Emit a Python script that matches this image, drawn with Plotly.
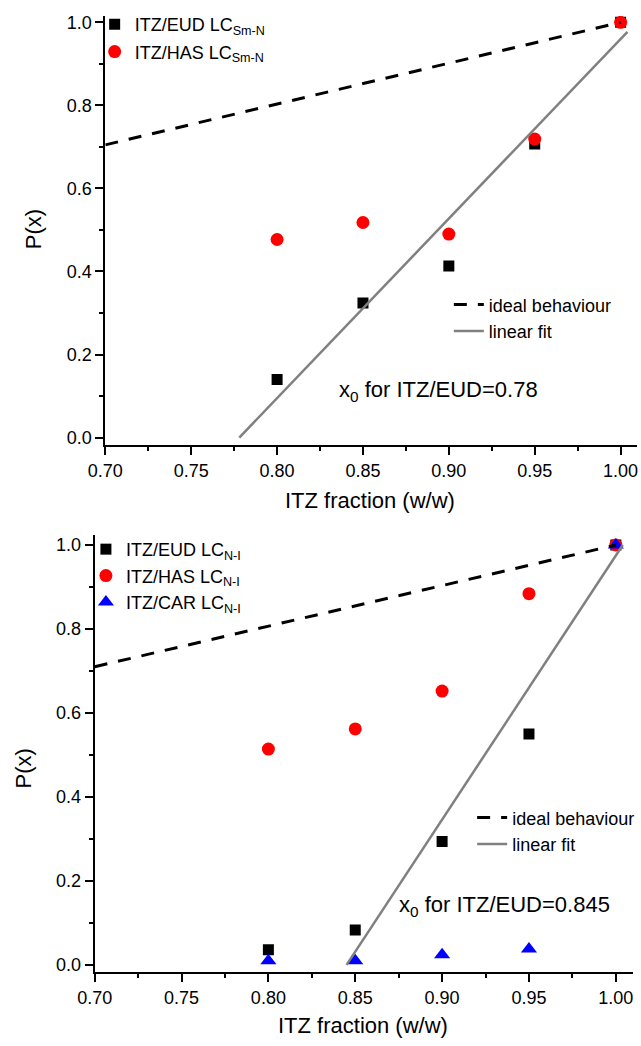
import plotly.graph_objects as go

# ---------------- data ----------------
frac = [0.80, 0.85, 0.90, 0.95, 1.00]

top_eud = [0.140, 0.324, 0.413, 0.707, 1.000]
top_has = [0.477, 0.518, 0.490, 0.719, 1.000]

bot_eud = [0.036, 0.083, 0.294, 0.550, 1.000]
bot_has = [0.514, 0.562, 0.652, 0.884, 1.000]
bot_car = [0.010, 0.010, 0.024, 0.038, 1.000]

ideal_x = [0.70, 1.00]
top_ideal_y = [0.705, 1.00]
bot_ideal_y = [0.710, 1.00]

top_fit_x = [0.778, 1.004]
top_fit_y = [0.000, 0.977]
bot_fit_x = [0.845, 1.004]
bot_fit_y = [0.000, 1.000]

x_tickvals = [0.70, 0.75, 0.80, 0.85, 0.90, 0.95, 1.00]
y_tickvals = [0.0, 0.2, 0.4, 0.6, 0.8, 1.0]

W, H = 641, 1046
FONT = "Liberation Sans, Arial, sans-serif"


def px(x):
    return x / W


def py(y):
    return 1 - y / H


fig = go.Figure()

# ---------------- top panel ----------------
fig.add_trace(go.Scatter(x=frac, y=top_eud, mode="markers", name="ITZ/EUD LC<sub>Sm-N</sub>",
                         marker=dict(symbol="square", size=11, color="black"),
                         xaxis="x", yaxis="y", legend="legend", legendgroup="a"))
fig.add_trace(go.Scatter(x=frac, y=top_has, mode="markers", name="ITZ/HAS LC<sub>Sm-N</sub>",
                         marker=dict(symbol="circle", size=13, color="#ff0000"),
                         xaxis="x", yaxis="y", legend="legend", legendgroup="b"))
fig.add_trace(go.Scatter(x=ideal_x, y=top_ideal_y, mode="lines", name="ideal behaviour",
                         line=dict(color="black", width=3, dash="13px,11px"),
                         xaxis="x", yaxis="y", legend="legend2", legendgroup="c"))
fig.add_trace(go.Scatter(x=top_fit_x, y=top_fit_y, mode="lines", name="linear fit",
                         line=dict(color="#808080", width=2.5),
                         xaxis="x", yaxis="y", legend="legend2", legendgroup="d"))

# ---------------- bottom panel ----------------
fig.add_trace(go.Scatter(x=frac, y=bot_eud, mode="markers", name="ITZ/EUD LC<sub>N-I</sub>",
                         marker=dict(symbol="square", size=11, color="black"),
                         xaxis="x2", yaxis="y2", legend="legend3", legendgroup="e"))
fig.add_trace(go.Scatter(x=frac, y=bot_has, mode="markers", name="ITZ/HAS LC<sub>N-I</sub>",
                         marker=dict(symbol="circle", size=13, color="#ff0000"),
                         xaxis="x2", yaxis="y2", legend="legend3", legendgroup="f"))
fig.add_trace(go.Scatter(x=frac, y=bot_car, mode="markers", name="ITZ/CAR LC<sub>N-I</sub>",
                         marker=dict(symbol="triangle-up", size=14, color="#0000ff"),
                         xaxis="x2", yaxis="y2", legend="legend3", legendgroup="g"))
fig.add_trace(go.Scatter(x=ideal_x, y=bot_ideal_y, mode="lines", name="ideal behaviour",
                         line=dict(color="black", width=3, dash="13px,11px"),
                         xaxis="x2", yaxis="y2", legend="legend4", legendgroup="h"))
fig.add_trace(go.Scatter(x=bot_fit_x, y=bot_fit_y, mode="lines", name="linear fit",
                         line=dict(color="#808080", width=2.5),
                         xaxis="x2", yaxis="y2", legend="legend4", legendgroup="i"))


def xaxis_style(domain, rng):
    return dict(domain=domain, range=rng, showline=True, linecolor="black", linewidth=2,
                ticks="outside", ticklen=8, tickwidth=1.5, tickcolor="black",
                tickvals=x_tickvals, tickformat=".2f",
                tickfont=dict(family=FONT, size=18, color="black"),
                showgrid=False, zeroline=False,
                minor=dict(ticks="outside", ticklen=4, tickwidth=1.5, tickcolor="black",
                           dtick=0.025, tick0=0.70, showgrid=False))


def yaxis_style(domain, rng, anchor):
    return dict(domain=domain, range=rng, anchor=anchor, showline=True, linecolor="black",
                linewidth=2, ticks="outside", ticklen=8, tickwidth=1.5, tickcolor="black",
                tickvals=y_tickvals, tickformat=".1f",
                tickfont=dict(family=FONT, size=18, color="black"),
                showgrid=False, zeroline=False,
                minor=dict(ticks="outside", ticklen=4, tickwidth=1.5, tickcolor="black",
                           dtick=0.1, tick0=0.0, showgrid=False))


legend_common = dict(bgcolor="rgba(0,0,0,0)", borderwidth=0, xanchor="left", yanchor="top",
                     traceorder="grouped", itemsizing="trace")

fig.update_layout(
    width=W, height=H,
    margin=dict(l=0, r=0, t=0, b=0),
    paper_bgcolor="white", plot_bgcolor="white",
    font=dict(family=FONT, size=18, color="black"),
    xaxis=xaxis_style([px(90), px(638)], [0.70, 1.0096]) | dict(anchor="y"),
    yaxis=yaxis_style([py(445), py(13)], [-0.019, 1.0155], "x"),
    xaxis2=xaxis_style([px(79), px(634)], [0.70, 1.010]) | dict(anchor="y2"),
    yaxis2=yaxis_style([py(975), py(535)], [-0.018, 1.024], "x2"),
    legend=legend_common | dict(x=px(79), y=py(3), tracegroupgap=1,
                                font=dict(family=FONT, size=18, color="black")),
    legend2=legend_common | dict(x=px(444), y=py(285), tracegroupgap=0,
                                 font=dict(family=FONT, size=18, color="black")),
    legend3=legend_common | dict(x=px(70), y=py(531), tracegroupgap=0,
                                 font=dict(family=FONT, size=18, color="black")),
    legend4=legend_common | dict(x=px(468), y=py(801), tracegroupgap=0,
                                 font=dict(family=FONT, size=18, color="black")),
    showlegend=True,
)

ann_font_title = dict(family=FONT, size=22, color="black")
ann_font_note = dict(family=FONT, size=22, color="black")
fig.add_annotation(text="ITZ fraction (w/w)", x=px(363), y=py(500), xref="paper", yref="paper",
                   showarrow=False, font=ann_font_title, xanchor="center", yanchor="middle")
fig.add_annotation(text="P(x)", x=px(16), y=py(228), xref="paper", yref="paper",
                   showarrow=False, font=ann_font_title, textangle=-90,
                   xanchor="center", yanchor="middle")
fig.add_annotation(text="x<sub>0</sub> for ITZ/EUD=0.78", x=px(329), y=py(390),
                   xref="paper", yref="paper", showarrow=False, font=ann_font_note,
                   xanchor="left", yanchor="middle")

fig.add_annotation(text="ITZ fraction (w/w)", x=px(356), y=py(1028), xref="paper", yref="paper",
                   showarrow=False, font=ann_font_title, xanchor="center", yanchor="middle")
fig.add_annotation(text="P(x)", x=px(6), y=py(770), xref="paper", yref="paper",
                   showarrow=False, font=ann_font_title, textangle=-90,
                   xanchor="center", yanchor="middle")
fig.add_annotation(text="x<sub>0</sub> for ITZ/EUD=0.845", x=px(391), y=py(908),
                   xref="paper", yref="paper", showarrow=False, font=ann_font_note,
                   xanchor="left", yanchor="middle")

fig.write_html("out.html")
